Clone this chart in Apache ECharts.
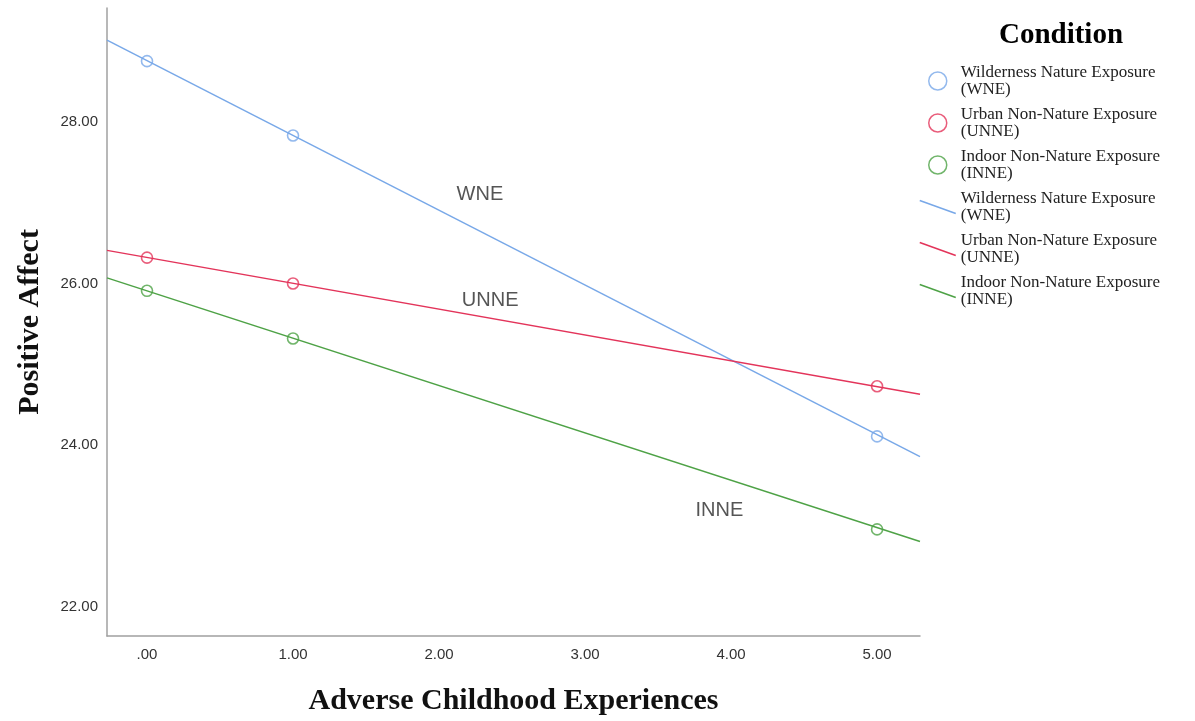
<!DOCTYPE html>
<html>
<head>
<meta charset="utf-8">
<script src="https://cdn.jsdelivr.net/npm/echarts@6/dist/echarts.min.js"></script>
<style>html,body{margin:0;padding:0;background:#fff;}#c{width:1195px;height:721px;}</style>
</head>
<body>
<div id="c"></div>
<script>
// ---- data ----
const groups = ['WNE', 'UNNE', 'INNE'];
const groupLabels = ['Wilderness Nature Exposure\n(WNE)', 'Urban Non-Nature Exposure\n(UNNE)', 'Indoor Non-Nature Exposure\n(INNE)'];
const aceLevels = [0, 1, 5];
const meansWNE = [28.75, 27.83, 24.11];
const meansUNNE = [26.32, 26.00, 24.73];
const meansINNE = [25.91, 25.32, 22.96];
const fitX = [-0.274, 5.294];
const fitWNE = [29.01, 23.86];
const fitUNNE = [26.41, 24.63];
const fitINNE = [26.07, 22.81];
const xTicks = [0, 1, 2, 3, 4, 5];
const yTicks = [22, 24, 26, 28];
const annotX = [2.28, 2.35, 3.92];
const annotY = [27.10, 25.79, 23.20];

const colors = ['#78a8e8', '#e3345a', '#4ea246'];
const means = [meansWNE, meansUNNE, meansINNE];
const fits = [fitWNE, fitUNNE, fitINNE];
const serif = '"Liberation Serif", "Times New Roman", serif';
const sans = '"Liberation Sans", Arial, sans-serif';

const series = [];
const labelMap = {};
groups.forEach((g, i) => {
  labelMap[g + ' points'] = groupLabels[i];
  labelMap[g + ' fit'] = groupLabels[i];
});
groups.forEach((g, i) => {
  series.push({
    name: g + ' fit', type: 'line', symbol: 'none', silent: true,
    data: fitX.map((x, k) => [x, fits[i][k]]),
    lineStyle: { color: colors[i], width: 1.5 },
    itemStyle: { color: colors[i] }, z: 2
  });
});
groups.forEach((g, i) => {
  series.push({
    name: g + ' points', type: 'scatter', symbol: 'circle', symbolSize: 11,
    data: aceLevels.map((x, k) => [x, means[i][k]]),
    itemStyle: { color: 'transparent', borderColor: colors[i], borderWidth: 1.6 }, z: 3
  });
});
series.push({
  name: 'annot', type: 'scatter', symbolSize: 0, silent: true,
  data: groups.map((g, i) => ({ value: [annotX[i], annotY[i]], name: g })),
  itemStyle: { color: '#222' },
  label: { show: true, position: 'inside', formatter: p => p.name,
           color: '#2a2a2a', textBorderWidth: 0, fontFamily: sans, fontSize: 20 }
});

const legendData = [];
groups.forEach((g, i) => legendData.push({ name: g + ' points', icon: 'circle',
  itemStyle: { color: 'transparent', borderColor: colors[i], borderWidth: 1.5 } }));
groups.forEach((g, i) => legendData.push({ name: g + ' fit', icon: 'path://M0,0L36,13',
  itemStyle: { color: 'transparent', borderColor: colors[i], borderWidth: 1.5 } }));

const fmt = v => { const s = v.toFixed(2); return s.startsWith('0.') ? s.slice(1) : s; };

const option = {
  animation: false,
  backgroundColor: '#fff',
  title: {
    text: 'Condition', left: 1056, top: 16, textAlign: 'center',
    textStyle: { fontFamily: serif, fontWeight: 'bold', fontSize: 29, color: '#000' }
  },
  legend: {
    orient: 'vertical', left: 919, top: 64, padding: 0, itemWidth: 36, itemHeight: 18, itemGap: 8,
    selectedMode: false, data: legendData,
    formatter: n => labelMap[n],
    textStyle: { fontFamily: serif, fontSize: 17, lineHeight: 17, color: '#222', padding: [0, 0, 0, 0] }
  },
  grid: { left: 107, top: 8, width: 813, height: 629, containLabel: false },
  xAxis: {
    type: 'value', min: -0.274, max: 5.294,
    name: 'Adverse Childhood Experiences', nameLocation: 'middle', nameGap: 50,
    nameTextStyle: { fontFamily: serif, fontWeight: 'bold', fontSize: 30, color: '#111' },
    axisLine: { show: true, onZero: false, lineStyle: { color: '#a0a0a0', width: 1.5 } },
    axisTick: { show: false },
    splitLine: { show: false },
    axisLabel: { customValues: xTicks, formatter: fmt, fontFamily: sans, fontSize: 15, color: '#333', margin: 11 }
  },
  yAxis: {
    type: 'value', min: 21.642, max: 29.407,
    name: 'Positive Affect', nameLocation: 'middle', nameGap: 62, nameRotate: 90,
    nameTextStyle: { fontFamily: serif, fontWeight: 'bold', fontSize: 30, color: '#111' },
    axisLine: { show: true, onZero: false, lineStyle: { color: '#a0a0a0', width: 1.5 } },
    axisTick: { show: false },
    splitLine: { show: false },
    axisLabel: { customValues: yTicks, formatter: fmt, fontFamily: sans, fontSize: 15, color: '#333', margin: 9 }
  },
  series: series
};
const chart = echarts.init(document.getElementById('c'), null, { renderer: 'canvas' });
chart.setOption(option);
</script>
</body>
</html>
